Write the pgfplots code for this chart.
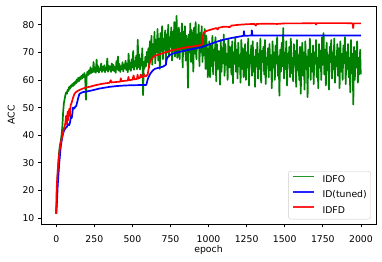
\documentclass[border=0pt]{standalone}
\usepackage{fontspec}
\setmainfont{DejaVu Sans}
\usepackage{pgfplots}
\pgfplotsset{compat=1.18}
\definecolor{mplgreen}{RGB}{0,128,0}
\definecolor{mplblue}{RGB}{0,0,255}
\definecolor{mplred}{RGB}{255,0,0}
\begin{document}
\fontsize{9.3bp}{11bp}\selectfont
\begin{tikzpicture}[font=\fontsize{9.3bp}{11bp}\selectfont]
\useasboundingbox (-41bp,-38bp) rectangle (341bp,224bp);
\begin{axis}[
  at={(0bp,0bp)}, anchor=south west,
  scale only axis, width=335bp, height=218bp,
  xmin=-100, xmax=2099, ymin=7.8, ymax=86.8,
  xtick={0,250,...,2000}, ytick={10,20,...,80},
  /pgf/number format/assume math mode=true,
  /pgf/number format/1000 sep={},
  tick align=outside, major tick length=3.2bp,
  tick style={black, line width=0.75bp},
  axis line style={black, line width=0.75bp},
  xtick pos=bottom, ytick pos=left,
  xticklabel style={anchor=base, inner sep=0pt, yshift=-15.3bp},
  yticklabel style={anchor=east, inner sep=0pt, text depth=0pt, xshift=-3.2bp},
  xlabel={epoch}, ylabel={ACC},
  xlabel style={at={(axis description cs:0.5,-0.1307)}, anchor=base, inner sep=0pt},
  ylabel style={at={(axis description cs:-0.0791,0.5)}, anchor=base, inner sep=0pt},
  legend cell align=left,
  legend style={at={(0.985,0.0216)}, anchor=south east, draw=black!20,
    rounded corners=2.5bp, fill=white, fill opacity=0.8, text opacity=1,
    inner xsep=4bp, inner ysep=4.3bp, row sep=7bp, column sep=7.5bp,
    nodes={inner sep=0pt, text height=6.8bp, text depth=1.5bp},
    font=\fontsize{9.3bp}{11bp}\selectfont},
  legend image code/.code={\draw[#1, line width=1.7bp, opacity=0.85] (0bp,3.4bp) -- (21bp,3.4bp);},
  every axis plot/.append style={line width=1.7bp, line join=round},
]
\addplot[mplgreen] coordinates {
(0,12.0) (5,20) (10,27) (15,31) (20,34.5) (25,36.5) (30,38) (35,40) (40,43) (45,48)
(50,51.5) (55,53) (60,54.5) (65,55.5) (70,55) (75,56.5) (80,56) (85,57.5) (90,56.8) (95,58)
(100,57.5) (105,58.5) (110,57.8) (115,59) (120,58.2) (125,59.5) (130,58.8) (135,60.2) (140,59.3) (145,60.8)
(150,59.6) (155,61) (160,60.2) (165,61.5) (170,60.5) (175,62) (180,61) (185,62.5) (190,60.8) (195,52.8)
(200,61.5) (205,63) (210,61.8) (215,63.5) (220,62.2) (225,64.6) (230,62.5) (235,64) (240,62.8) (245,66.5)
(250,63) (255,64.5) (260,62.6) (265,67.4) (270,63.2) (275,65) (280,62.7) (285,64.2) (290,63.5) (295,66)
(300,62.9) (305,64.8) (310,63.4) (315,65.3) (320,62.8) (325,64.5) (330,63.6) (335,67.8) (340,63) (345,65.2)
(350,63.7) (355,64.9) (360,62.9) (365,66) (370,63.5) (375,65.5) (380,63.2) (385,64.7) (390,62.6) (395,66.8)
(400,63.8) (405,68.5) (410,63.4) (415,65.8) (420,62.9) (425,65) (430,63.9) (435,66.4) (440,63.1) (445,65.6)
(450,64.2) (455,67) (460,63.6) (465,65.9) (470,62.8) (475,69.5) (480,64) (485,66.2) (490,63.3) (495,67.5)
(500,64.5) (505,70.5) (510,63.7) (515,66.8) (520,64.9) (525,68.8) (530,63.9) (535,74.6) (540,64.6) (545,69.2)
(550,63.8) (555,67.7) (560,65.2) (565,71.5) (570,54.5) (575,66.5) (580,64.3) (585,68.4) (590,65) (595,70.2)
(600,66.5) (605,71.5) (610,64.5) (615,74) (620,67.5) (625,76) (630,65.5) (635,73) (640,69) (645,77.5)
(650,66) (655,74.5) (660,70) (665,78.5) (670,67) (675,75) (680,64) (685,77) (690,70.5) (695,79.5)
(700,67.5) (705,75) (710,71) (715,78) (720,66) (725,76.5) (730,70) (735,80) (740,68.5) (745,75.5)
(750,72) (755,79) (760,67) (765,77.5) (770,70.5) (775,81) (780,68.5) (785,76) (790,83.2) (795,68)
(800,74.5) (805,79) (810,67.5) (815,77) (820,71) (825,80.5) (830,64.5) (835,77.5) (840,70.5) (845,79.5)
(850,67) (855,76) (860,72) (865,57.2) (870,76.5) (875,70) (880,80.5) (885,66.5) (890,78) (895,71.5)
(900,63) (905,79) (910,69.5) (915,81) (920,67.5) (925,76.5) (930,72) (935,80) (940,65) (945,77)
(950,70) (955,79.5) (960,66.5) (965,75) (970,69) (975,78.5) (980,64) (985,76) (990,70.5) (995,61)
(1000,66.5) (1005,74) (1010,61) (1015,72.5) (1020,65) (1025,76) (1030,62) (1035,71) (1040,67) (1045,75.5)
(1050,59.5) (1055,73) (1060,64) (1065,70.5) (1070,68) (1075,58.3) (1080,74.5) (1085,63) (1090,71.5) (1095,66)
(1100,76.5) (1105,61.5) (1110,73) (1115,65.5) (1120,69.5) (1125,60) (1130,75) (1135,64.5) (1140,72) (1145,67.5)
(1150,62) (1155,74) (1160,58.8) (1165,70) (1170,66) (1175,75.5) (1180,63) (1185,71) (1190,60.5) (1195,73.5)
(1200,65) (1205,69) (1210,59) (1215,74.5) (1220,64) (1225,71.5) (1230,61) (1235,68.5) (1240,73) (1245,60)
(1250,70) (1255,64.5) (1260,75) (1265,58) (1270,69) (1275,66) (1280,72.5) (1285,61.5) (1290,74) (1295,63)
(1300,68.5) (1305,57.5) (1310,71) (1315,65) (1320,73.5) (1325,60.5) (1330,69.5) (1335,64) (1340,75) (1345,59)
(1350,70.5) (1355,66.5) (1360,72) (1365,62) (1370,74.5) (1375,58.5) (1380,68) (1385,65.5) (1390,71.5) (1395,61)
(1400,73) (1405,63.5) (1410,69) (1415,57) (1420,74) (1425,64.5) (1430,70) (1435,60) (1440,72.5) (1445,66)
(1450,75.5) (1455,61.5) (1460,68.5) (1465,54.3) (1470,71) (1475,63) (1480,73.5) (1485,65) (1490,78.8) (1495,60.5)
(1500,70) (1505,64) (1510,74) (1515,58) (1520,69.5) (1525,66) (1530,72) (1535,61) (1540,75) (1545,62.5)
(1550,68) (1555,59.5) (1560,73) (1565,65.5) (1570,70.5) (1575,57.5) (1580,74.5) (1585,63.5) (1590,69) (1595,60)
(1600,72) (1605,55) (1610,67.5) (1615,73.5) (1620,61.5) (1625,70) (1630,56.5) (1635,74) (1640,64) (1645,68.5)
(1650,53.8) (1655,71) (1660,65) (1665,75) (1670,60) (1675,69.5) (1680,63) (1685,72.5) (1690,58.5) (1695,70)
(1700,66) (1705,74.5) (1710,61) (1715,68) (1720,57) (1725,73) (1730,64.5) (1735,70.5) (1740,60) (1745,75.5)
(1750,65.5) (1755,77) (1760,62) (1765,71) (1770,58) (1775,73.5) (1780,63.5) (1785,69) (1790,56.5) (1795,72)
(1800,66.5) (1805,74.5) (1810,60.5) (1815,70) (1820,64) (1825,75) (1830,59) (1835,68.5) (1840,65) (1845,73)
(1850,61.5) (1855,71.5) (1860,57) (1865,74) (1870,63) (1875,69.5) (1880,60) (1885,72.5) (1890,66) (1895,75.5)
(1900,58.5) (1905,70) (1910,64) (1915,73) (1920,61) (1925,68) (1930,55.5) (1935,74.5) (1940,62.5) (1945,69.5)
(1950,51.1) (1955,72) (1960,60) (1965,70.5) (1970,64.5) (1975,74) (1980,59) (1985,68) (1990,62) (1995,71)
(1999,62)
};
\addlegendentry{IDFO}
\addplot[mplblue] coordinates {
(0,11.5) (5,16) (10,22) (20,30) (30,36) (40,39.5) (50,41.5) (60,42.5) (70,43) (77,44)
(85,43.6) (90,44.5) (98,47) (102,46.2) (105,47.5) (110,50) (118,49.6) (125,50.3) (131,50.5) (140,52.5)
(147,54) (153,55) (175,55.6) (200,55.8) (241,56.3) (285,56.9) (350,57.5) (400,57.8) (450,58) (504,58.1)
(591,58.2) (597,59.5) (602,60.5) (610,61.5) (620,62.5) (635,63.5) (650,64.1) (700,64.8) (720,65.5) (725,67.5)
(735,68.5) (750,69.2) (780,69.8) (820,70.3) (876,71) (950,71.8) (1000,72.8) (1050,73.8) (1100,74.6) (1150,75.2)
(1200,75.7) (1230,76) (1232,77.7) (1235,76) (1282,76.1) (1284,78) (1287,76.1) (1400,76.1) (1600,76.1) (1800,76.1)
(1999,76.1)
};
\addlegendentry{ID(tuned)}
\addplot[mplred] coordinates {
(0,11.5) (2,19) (5,23) (10,27) (15,30.5) (20,33.5) (25,35.5) (30,37) (35,38.5) (40,39.5)
(45,41) (50,42.5) (55,43) (60,44.5) (65,47) (70,44) (75,48.5) (80,45.5) (85,49.5) (90,47)
(95,51) (100,51.5) (110,53.5) (120,55) (130,55.6) (140,56) (150,56.3) (175,56.9) (200,57.3) (225,57.6)
(250,58) (275,58.3) (300,58.6) (325,58.8) (350,59) (358,59.9) (362,59.1) (400,59.3) (420,59.4) (424,60.6)
(428,59.5) (450,59.7) (470,59.8) (474,61.1) (478,59.9) (500,60.1) (508,61.6) (512,60.2) (530,60.4) (534,61.9)
(538,60.5) (550,60.8) (555,62) (560,61.1) (570,61) (575,62.2) (580,61.3) (590,61.4) (600,62) (605,63.5)
(610,65.5) (620,67) (630,68) (650,68.8) (700,69.7) (750,70.6) (800,71.2) (850,71.8) (900,72.2) (950,72.6)
(958,73) (962,75.5) (968,77.2) (980,77.6) (1000,78) (1050,78.8) (1060,78.3) (1065,78.9) (1100,79.3) (1140,79.2)
(1150,79.7) (1200,80) (1250,80.2) (1300,80.3) (1310,79.7) (1315,80.3) (1400,80.4) (1450,80.3) (1500,80.5) (1600,80.5)
(1700,80.6) (1705,80.1) (1710,80.6) (1800,80.6) (1900,80.6) (1946,80.5) (1949,78.8) (1952,80.5) (1999,80.5)
};
\addlegendentry{IDFD}
\end{axis}
\end{tikzpicture}
\end{document}
